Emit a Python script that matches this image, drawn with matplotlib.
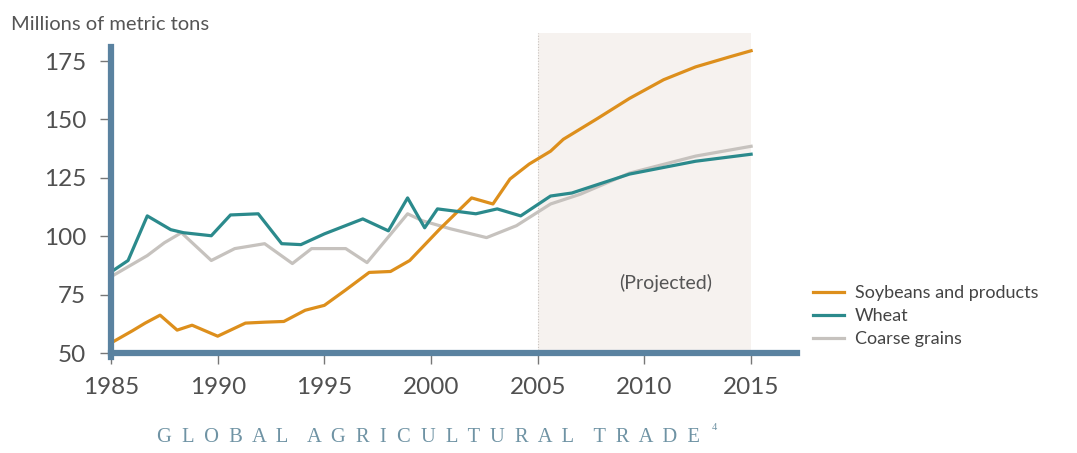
import matplotlib.pyplot as plt

# values (millions of metric tons)
soy_years = [1985, 1986.0, 1986.6, 1987.3, 1988.1, 1988.8, 1990.0, 1991.3, 1992.2,
             1993.1, 1994.1, 1995.0, 1996.0, 1997.1, 1998.1, 1999.0, 2000.4, 2001.9,
             2002.9, 2003.7, 2004.6, 2005.6, 2006.2, 2007.8, 2009.3, 2010.9, 2012.4,
             2014.0, 2015.0]
soy_vals = [54.3, 59.5, 62.8, 66.2, 59.8, 61.9, 57.2, 62.8, 63.2,
            63.5, 68.3, 70.4, 77.0, 84.5, 84.9, 89.6, 103.0, 116.4,
            113.8, 124.5, 130.9, 136.4, 141.5, 150.4, 159.0, 167.0, 172.5,
            176.8, 179.4]

wheat_years = [1985.1, 1985.8, 1986.7, 1987.8, 1988.4, 1989.7, 1990.6, 1991.9, 1993.0,
               1993.9, 1995.0, 1996.8, 1998.0, 1998.9, 1999.7, 2000.3, 2002.1, 2003.1,
               2004.2, 2005.6, 2006.6, 2009.3, 2012.4, 2015.0]
wheat_vals = [85.3, 89.6, 108.7, 102.8, 101.5, 100.2, 109.1, 109.6, 96.8,
              96.4, 101.0, 107.4, 102.3, 116.4, 103.6, 111.7, 109.6, 111.7,
              108.7, 117.2, 118.5, 126.6, 132.1, 135.1]

coarse_years = [1985.1, 1986.7, 1987.5, 1988.3, 1989.7, 1990.8, 1992.2, 1993.5, 1994.4,
                1996.0, 1997.0, 1998.9, 1999.6, 2000.9, 2002.6, 2004.0, 2005.6, 2007.0,
                2009.3, 2012.4, 2015.0]
coarse_vals = [83.2, 91.7, 97.2, 101.5, 89.6, 94.7, 96.8, 88.3, 94.7,
               94.7, 88.7, 109.6, 106.6, 103.2, 99.4, 104.5, 113.8, 118.0,
               127.0, 134.3, 138.5]

year_ticks = [1985, 1990, 1995, 2000, 2005, 2010, 2015]
value_ticks = [50, 75, 100, 125, 150, 175]
projection_start, projection_end = 2005, 2015
caption = 'GLOBAL AGRICULTURAL TRADE'

plt.rcParams['font.family'] = ['Lato', 'DejaVu Sans']

fig = plt.figure(figsize=(10.77, 4.53), dpi=100)
ax = fig.add_axes([111 / 1077, 100 / 453, 686 / 1077, 320 / 453])

# projected period shading
ax.axvspan(projection_start, projection_end, color='#f6f2ef', lw=0, zorder=0)
ax.axvline(projection_start, color='#c9c4c0', lw=0.8, ls=(0, (1, 1.5)), zorder=0.5)
ax.text(2011.0, 79.8, '(Projected)', ha='center', va='center', fontsize=14,
        color='#555555')

ax.plot(soy_years, soy_vals, color='#dd8f1c', lw=2.3, label='Soybeans and products', zorder=3)
ax.plot(wheat_years, wheat_vals, color='#2b8a8c', lw=2.3, label='Wheat', zorder=4)
ax.plot(coarse_years, coarse_vals, color='#c6c2be', lw=2.3, label='Coarse grains', zorder=2)

ax.set_xlim(1985, 2017.15)
ax.set_ylim(50, 187)
ax.set_xticks(year_ticks)
ax.set_yticks(value_ticks)

for side in ['top', 'right']:
    ax.spines[side].set_visible(False)
spine_color = '#5a82a0'
for side in ['left', 'bottom']:
    ax.spines[side].set_color(spine_color)
    ax.spines[side].set_linewidth(4.5)
    ax.spines[side].set_zorder(5)
ax.spines['left'].set_bounds(48.5, 181)

ax.tick_params(axis='both', colors='#777777', labelcolor='#505050', labelsize=17.5,
               length=8, width=1, direction='out')
ax.tick_params(axis='y', pad=10)
ax.tick_params(axis='x', pad=9)

fig.text(11 / 1077, 1 - 24 / 453, 'Millions of metric tons', ha='left', va='center',
         fontsize=14.5, color='#555555')

ax.legend(loc='center left', bbox_to_anchor=(1.0, 0.115), frameon=False,
          fontsize=13, handlelength=1.7, handletextpad=0.6, labelspacing=0.4,
          labelcolor='#444444')

spaced = '    '.join('  '.join(word) for word in caption.split())
fig.text(428 / 1077, 1 - 437 / 453, spaced, ha='center', va='center', fontsize=14.8,
         color='#6f93a4', family='Liberation Serif')
fig.text(712 / 1077, 1 - 428 / 453, '4', ha='left', va='center', fontsize=7.5,
         color='#6f93a4', family='Liberation Serif')

fig.savefig('out.png', dpi=100)
